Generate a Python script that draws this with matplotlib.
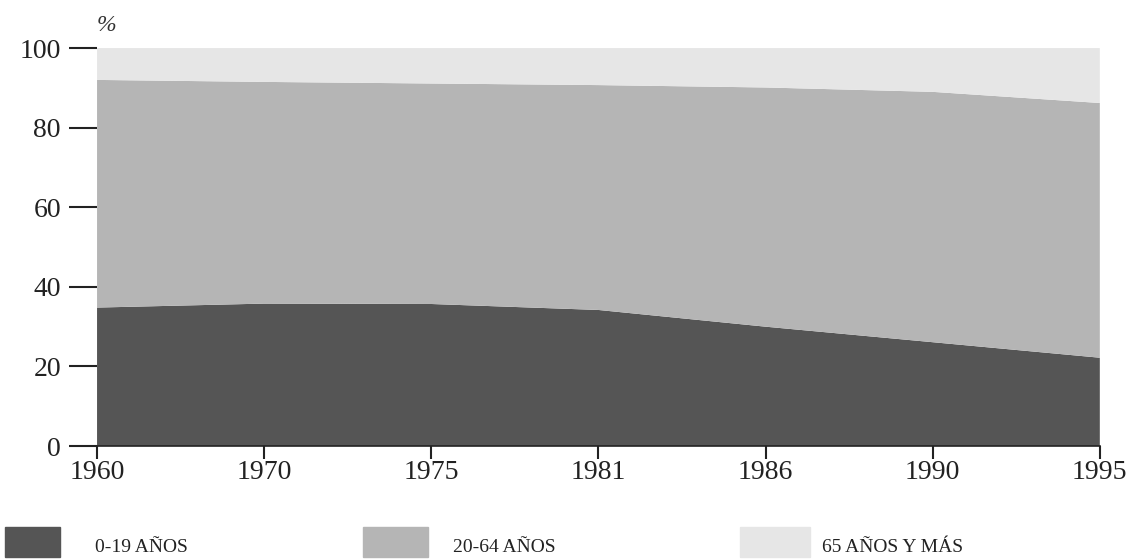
import matplotlib
matplotlib.use("Agg")
from matplotlib import pyplot as plt
from matplotlib.patches import Rectangle

years = ['1960', '1970', '1975', '1981', '1986', '1990', '1995']
young = [34.8, 35.8, 35.7, 34.2, 30.0, 26.1, 22.2]   # 0-19 años
adult = [57.2, 55.7, 55.4, 56.5, 60.1, 62.9, 64.0]   # 20-64 años
old = [8.0, 8.5, 8.9, 9.3, 9.9, 11.0, 13.8]          # 65 años y más
labels = ['0-19 AÑOS', '20-64 AÑOS', '65 AÑOS Y MÁS']
colors = ['#555555', '#b5b5b5', '#e6e6e6']

plt.rcParams['font.family'] = ['Liberation Serif', 'DejaVu Serif']

fig = plt.figure(figsize=(11.35, 5.59), dpi=100)
ax = fig.add_axes([0.0855, 0.202, 0.8835, 0.712])

x = list(range(len(years)))
ax.stackplot(x, young, adult, old, colors=colors, linewidth=0)

ax.set_xlim(0, len(years) - 1)
ax.set_ylim(0, 100)
ax.set_xticks(x)
ax.set_xticklabels(years)
ax.set_yticks([0, 20, 40, 60, 80, 100])
ax.tick_params(axis='y', length=20, width=1.5, pad=6, labelsize=20, colors='#222222')
ax.tick_params(axis='x', length=9, width=1.5, pad=1, labelsize=20, colors='#222222')
for s in ['top', 'right', 'left']:
    ax.spines[s].set_visible(False)
ax.spines['bottom'].set_linewidth(1.2)
ax.spines['bottom'].set_color('#222222')

ax.text(0.0, 103, '%', fontsize=17, style='italic', color='#333333', ha='left', va='bottom')

# legend along the bottom
boxes = [(5, 60), (363, 428), (740, 810)]
text_x = [95, 453, 822]
W, H = 1135, 559
for (x0, x1), tx, lab, c in zip(boxes, text_x, labels, colors):
    fig.patches.append(Rectangle((x0 / W, 1 - 557 / H), (x1 - x0) / W, 30 / H,
                                 transform=fig.transFigure, color=c))
    fig.text(tx / W, 1 - 547 / H, lab, fontsize=14, color='#222222', va='center')

fig.savefig('out.png', dpi=100)
